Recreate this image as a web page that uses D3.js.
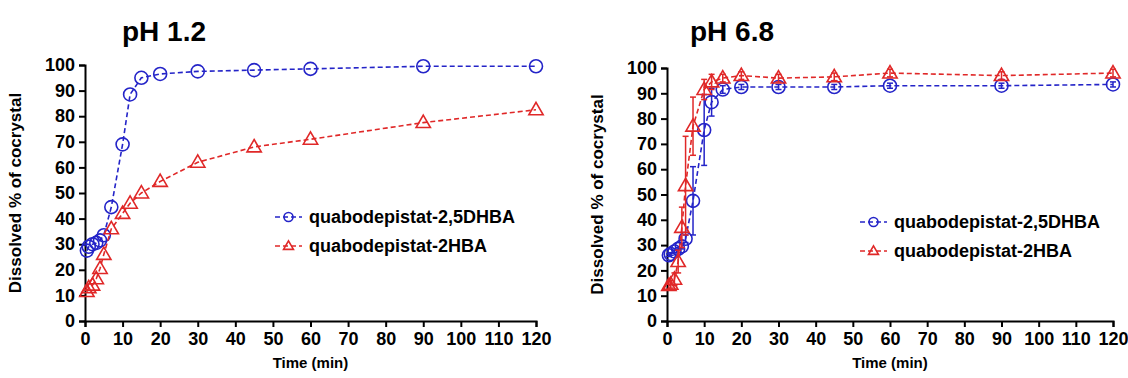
<!DOCTYPE html>
<html>
<head>
<meta charset="utf-8">
<script src="https://cdn.jsdelivr.net/npm/d3@7"></script>
<style>
  body { margin: 0; background: #fff; }
  text { font-family: "Liberation Sans", Arial, sans-serif; font-weight: bold; fill: #000; }
</style>
</head>
<body>
<script>
// sampling times (min), same for both media
var times = [0.5, 1, 2, 3, 4, 5, 7, 10, 12, 15, 20, 30, 45, 60, 90, 120];

// pH 1.2
var acid_25dhba = [27.5, 29, 30, 30.5, 31.5, 33.5, 44.5, 69, 88.5, 95, 96.5, 97.5, 98, 98.5, 99.5, 99.5];
var acid_2hba   = [11.5, 13, 14, 16.5, 20.5, 26, 36, 42, 46, 50, 54.5, 62, 68, 71, 77.5, 82.5];

// pH 6.8 (mean and sd)
var neut_25dhba    = [26, 26.5, 27.5, 28.5, 29.5, 32.5, 47.5, 75.5, 86.5, 91.5, 92.5, 92.5, 92.5, 93, 93, 93.5];
var neut_25dhba_sd = [0.5, 0.5, 0.5, 0.5, 1, 1.5, 13.5, 14, 5.5, 1.5, 1, 1, 1, 1, 1, 1];
var neut_2hba      = [14, 14.5, 16.5, 23.5, 37, 53.5, 77, 91.5, 94.5, 96, 97, 96, 96.5, 98, 97, 98];
var neut_2hba_sd   = [1.5, 1.5, 2.5, 4.5, 8, 19.5, 11.5, 4, 3, 1.5, 1.5, 1.5, 1.5, 1.5, 1.5, 1.5];

var xTicks = d3.range(0, 121, 10);
var yTicks = d3.range(0, 101, 10);
var seriesNames = ["quabodepistat-2,5DHBA", "quabodepistat-2HBA"];
var blue = "#2424c8", red = "#e02828";

var svg = d3.select("body").append("svg")
    .attr("width", 1128)
    .attr("height", 378);

var panels = [
  {title: "pH 1.2", x0: 85, x1: 536, y0: 321, y1: 65, tx: 122, lx: 275, ly: 217,
   s: [{v: acid_25dhba, c: blue, m: "circle"}, {v: acid_2hba, c: red, m: "tri"}]},
  {title: "pH 6.8", x0: 667, x1: 1113, y0: 321, y1: 68, tx: 690, lx: 860, ly: 222,
   s: [{v: neut_25dhba, sd: neut_25dhba_sd, c: blue, m: "circle"},
       {v: neut_2hba, sd: neut_2hba_sd, c: red, m: "tri"}]}
];

function marker(g, type, cx, cy, col, size) {
  if (type == "circle") {
    g.append("circle").attr("cx", cx).attr("cy", cy).attr("r", size)
      .attr("fill", "none").attr("stroke", col).attr("stroke-width", 1.6);
  } else {
    var h = size * 1.9, w = size * 1.1;
    g.append("path")
      .attr("d", "M" + cx + "," + (cy - h * 0.6) + "L" + (cx + w) + "," + (cy + h * 0.4) + "L" + (cx - w) + "," + (cy + h * 0.4) + "Z")
      .attr("fill", "none").attr("stroke", col).attr("stroke-width", 1.6);
  }
}

panels.forEach(function(p) {
  var x = d3.scaleLinear().domain([0, 120]).range([p.x0, p.x1]);
  var y = d3.scaleLinear().domain([0, 100]).range([p.y0, p.y1]);
  var g = svg.append("g");

  // axes
  var xa = g.append("g").attr("transform", "translate(0," + p.y0 + ")")
    .call(d3.axisBottom(x).tickValues(xTicks).tickSize(6).tickPadding(5));
  var ya = g.append("g").attr("transform", "translate(" + p.x0 + ",0)")
    .call(d3.axisLeft(y).tickValues(yTicks).tickSize(6).tickPadding(4));
  [xa, ya].forEach(function(a) {
    a.select(".domain").attr("stroke", "#000").attr("stroke-width", 2);
    a.selectAll(".tick line").attr("stroke", "#000").attr("stroke-width", 2);
    a.selectAll(".tick text").style("font-size", "18px").attr("fill", "#000");
  });

  g.append("text").text(p.title).attr("x", p.tx).attr("y", 41).style("font-size", "28px");
  g.append("text").text("Time (min)").attr("text-anchor", "middle")
    .attr("x", (p.x0 + p.x1) / 2).attr("y", 368).style("font-size", "15px");
  g.append("text").text("Dissolved % of cocrystal").attr("text-anchor", "middle")
    .attr("transform", "translate(" + (p.x0 - 64) + "," + ((p.y0 + p.y1) / 2) + ") rotate(-90)")
    .style("font-size", "17px");

  var line = d3.line().x(function(d, i) { return x(times[i]); }).y(function(d) { return y(d); });

  p.s.forEach(function(s, k) {
    g.append("path").datum(s.v).attr("d", line)
      .attr("fill", "none").attr("stroke", s.c).attr("stroke-width", 1.6)
      .attr("stroke-dasharray", "5,3");
    if (s.sd) {
      s.v.forEach(function(v, i) {
        var cx = x(times[i]), top = y(v + s.sd[i]), bot = y(v - s.sd[i]);
        g.append("line").attr("x1", cx).attr("x2", cx).attr("y1", top).attr("y2", bot)
          .attr("stroke", s.c).attr("stroke-width", 1.5);
        [top, bot].forEach(function(yy) {
          g.append("line").attr("x1", cx - 3).attr("x2", cx + 3).attr("y1", yy).attr("y2", yy)
            .attr("stroke", s.c).attr("stroke-width", 1.5);
        });
      });
    }
    s.v.forEach(function(v, i) { marker(g, s.m, x(times[i]), y(v), s.c, 6.5); });

    // legend
    var ly = p.ly + k * 29;
    g.append("line").attr("x1", p.lx).attr("x2", p.lx + 27).attr("y1", ly).attr("y2", ly)
      .attr("stroke", s.c).attr("stroke-width", 1.5).attr("stroke-dasharray", "5,3");
    marker(g, s.m, p.lx + 13.5, ly, s.c, 4.5);
    g.append("text").text(seriesNames[k]).attr("x", p.lx + 34).attr("y", ly + 6)
      .style("font-size", "18px");
  });
});
</script>
</body>
</html>
